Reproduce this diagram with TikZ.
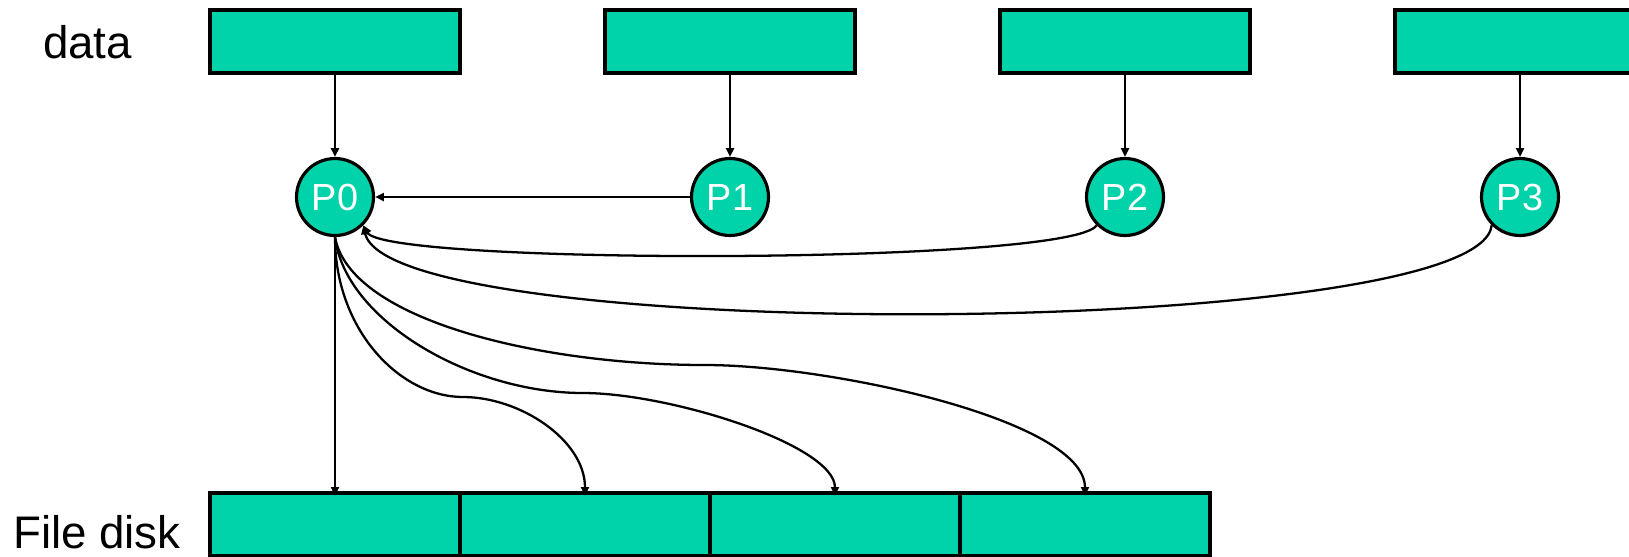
\documentclass[tikz,border=0pt]{standalone}
\usepackage{fontspec}
\setmainfont{Liberation Sans}
\usetikzlibrary{arrows.meta}
\definecolor{procgreen}{HTML}{00D2AA}

\begin{document}
\begin{tikzpicture}[x=0.02cm, y=-0.02cm, line width=1.3pt,
    >={Triangle[length=5pt,width=4.5pt]},
    block/.style={draw, line width=1.8pt, fill=procgreen, minimum width=5cm,
        minimum height=1.26cm, inner sep=0pt},
    proc/.style={draw, circle, line width=1.8pt, fill=procgreen, minimum size=1.54cm,
        inner sep=0pt, text=white, font=\fontsize{21.5}{21.5}\selectfont},
    lbl/.style={anchor=base west, inner sep=0pt, font=\fontsize{26}{26}\selectfont}]
    %\draw[lightgray] (0, 0) grid[step=50] (1629, 556);
    \useasboundingbox (0, 0) rectangle (1629, 556);
    \clip (0, 0) rectangle (1629, 556);

    \node[lbl] (datalbl) at (42, 58) {data};
    \node[lbl] (disklbl) at (12, 548) {File disk};

    % data blocks
    \node[block] (d0) at (335, 41.5) {};
    \node[block] (d1) at (730, 41.5) {};
    \node[block] (d2) at (1125, 41.5) {};
    \node[block] (d3) at (1520, 41.5) {};

    % processes
    \node[proc] (p0) at (335, 197) {P0};
    \node[proc] (p1) at (730, 197) {P1};
    \node[proc] (p2) at (1125, 197) {P2};
    \node[proc] (p3) at (1520, 197) {P3};

    % file on disk
    \node[block] (f0) at (335, 524.5) {};
    \node[block] (f1) at (585, 524.5) {};
    \node[block] (f2) at (835, 524.5) {};
    \node[block] (f3) at (1085, 524.5) {};

    \draw[->] (d0) -- (p0);
    \draw[->] (d1) -- (p1);
    \draw[->] (d2) -- (p2);
    \draw[->] (d3) -- (p3);

    % gather on P0
    \draw[->] (p1) -- (p0);
    \draw[->] (p2.south west) .. controls (1070, 265) and (385, 265) .. (p0.south east);
    \draw[->] (p3.south west) .. controls (1480, 340) and (390, 345) .. (p0.south east);

    % P0 writes the file
    \draw[->, shorten >=-2.5pt] (p0) -- (f0);
    \draw[->, shorten >=-2.5pt] (p0.south) .. controls (335, 330) and (400, 397) .. (463, 397)
        .. controls (520, 397) and (585, 440) .. (f1.north);
    \draw[->, shorten >=-2.5pt] (p0.south) .. controls (345, 320) and (470, 393) .. (583, 393)
        .. controls (670, 393) and (835, 445) .. (f2.north);
    \draw[->, shorten >=-2.5pt] (p0.south) .. controls (350, 320) and (540, 365) .. (705, 365)
        .. controls (830, 365) and (1085, 420) .. (f3.north);
\end{tikzpicture}
\end{document}
